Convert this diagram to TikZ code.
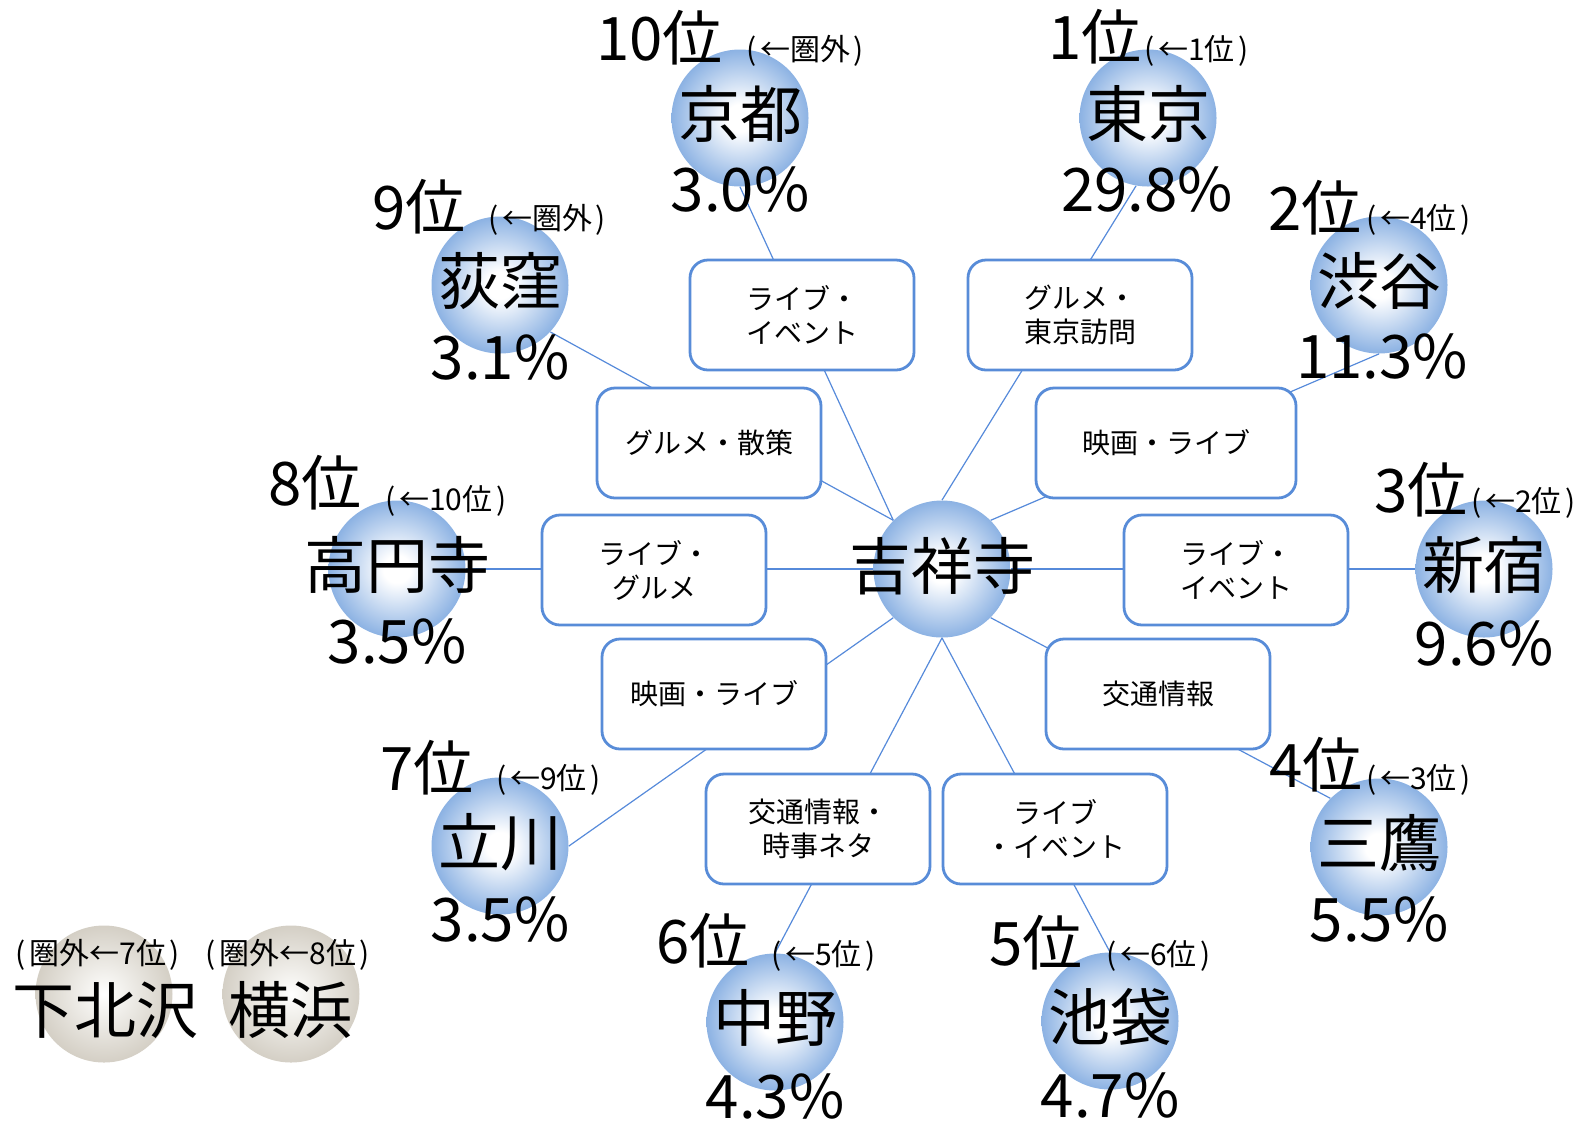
\documentclass[tikz,border=0pt]{standalone}
\usepackage{fontspec}
\setmainfont{Noto Sans CJK JP}
\usetikzlibrary{calc}
\definecolor{cityblue}{RGB}{140,178,227}
\definecolor{stonegray}{RGB}{212,207,197}
\definecolor{stonelight}{RGB}{246,245,242}
\definecolor{linkblue}{RGB}{86,138,218}
\definecolor{boxblue}{RGB}{88,140,216}
\pgfdeclareradialshading{bluebulb}{\pgfpoint{0bp}{0bp}}{color(0bp)=(white); color(5bp)=(white); color(25bp)=(cityblue); color(50bp)=(cityblue)}
\pgfdeclareradialshading{graybulb}{\pgfpoint{0bp}{0bp}}{color(0bp)=(white); color(5bp)=(stonelight); color(25bp)=(stonegray); color(50bp)=(stonegray)}
\newcommand{\paren}[1]{(\hspace{.12em}#1\hspace{.12em})}

\begin{document}
\begin{tikzpicture}[
  x=0.5pt, y=-0.5pt,
  bulb/.style = {circle, minimum size=68.5pt, inner sep=0pt, shade, shading=bluebulb},
  stone/.style = {circle, minimum size=68.5pt, inner sep=0pt, shade, shading=graybulb},
  cityname/.style = {inner sep=0pt, font=\fontsize{31}{31}\selectfont},
  pct/.style = {inner sep=0pt, font=\fontsize{30}{30}\selectfont},
  rank/.style = {inner sep=0pt, anchor=base east, font=\fontsize{30}{30}\selectfont},
  prev/.style = {inner sep=0pt, anchor=base west, font=\fontsize{15}{15}\selectfont},
  topic/.style = {draw=boxblue, line width=1.4pt, rounded corners=9pt, fill=white,
    minimum width=112pt, minimum height=55pt, align=center, font=\fontsize{14}{17}\selectfont},
  link/.style = {draw=linkblue, line width=0.6pt}
  ]
	\useasboundingbox (0,0) rectangle (1580,1121);

	\node[bulb] (kichijoji) at (942,569) {};
	\node[bulb] (kyoto) at (740,118) {};
	\node[bulb] (tokyo) at (1148,118) {};
	\node[bulb] (shibuya) at (1379,285) {};
	\node[bulb] (shinjuku) at (1484,569) {};
	\node[bulb] (mitaka) at (1379,847) {};
	\node[bulb] (ikebukuro) at (1110,1021) {};
	\node[bulb] (nakano) at (775,1022) {};
	\node[bulb] (tachikawa) at (500,846) {};
	\node[bulb] (koenji) at (397,569) {};
	\node[bulb] (ogikubo) at (500,285) {};
	\node[stone] (shimokita) at (104,994) {};
	\node[stone] (yokohama) at (291,994) {};

	\draw[link] (kichijoji.135) -- (kyoto.south);
	\draw[link] (kichijoji.90) -- (tokyo.-100);
	\draw[link] (kichijoji.45) -- (shibuya.south);
	\draw[link] (kichijoji.east) -- (shinjuku.west);
	\draw[link] (kichijoji.-45) -- (mitaka.135);
	\draw[link] (kichijoji.south) -- (ikebukuro.north);
	\draw[link] (kichijoji.south) -- (nakano.north);
	\draw[link] (kichijoji.-135) -- (tachikawa.east);
	\draw[link] (kichijoji.west) -- (koenji.east);
	\draw[link] (kichijoji.135) -- (ogikubo.-43);

	\node[topic] (t-kyoto) at (802,315) {ライブ・\\イベント};
	\node[topic] (t-tokyo) at (1080,315) {グルメ・\\東京訪問};
	\node[topic] (t-ogikubo) at (709,443) {グルメ・散策};
	\node[topic, minimum width=130pt] (t-shibuya) at (1166,443) {映画・ライブ};
	\node[topic] (t-koenji) at (654,570) {ライブ・\\グルメ};
	\node[topic] (t-shinjuku) at (1236,570) {ライブ・\\イベント};
	\node[topic] (t-tachikawa) at (714,694) {映画・ライブ};
	\node[topic] (t-mitaka) at (1158,694) {交通情報};
	\node[topic] (t-nakano) at (818,829) {交通情報・\\時事ネタ};
	\node[topic] (t-ikebukuro) at (1055,829) {ライブ\\・イベント};

	\node[cityname] (n-kichijoji) at (942,566) {吉祥寺};

	\node[cityname] (n-kyoto) at (740,114) {京都};
	\node[pct] (p-kyoto) at (740,190) {3.0\%};
	\node[rank] (r-kyoto) at (723,60) {10位};
	\node[prev] (v-kyoto) at (746,60) {\paren{←圏外}};

	\node[cityname] (n-tokyo) at (1148,114) {東京};
	\node[pct] (p-tokyo) at (1147,190) {29.8\%};
	\node[rank] (r-tokyo) at (1142,59) {1位};
	\node[prev] (v-tokyo) at (1144,60) {\paren{←1位}};

	\node[cityname] (n-shibuya) at (1379,281) {渋谷};
	\node[pct] (p-shibuya) at (1382,356) {11.3\%};
	\node[rank] (r-shibuya) at (1362,230) {2位};
	\node[prev] (v-shibuya) at (1366,229) {\paren{←4位}};

	\node[cityname] (n-shinjuku) at (1484,565) {新宿};
	\node[pct] (p-shinjuku) at (1484,643) {9.6\%};
	\node[rank] (r-shinjuku) at (1468,512) {3位};
	\node[prev] (v-shinjuku) at (1471,512) {\paren{←2位}};

	\node[cityname] (n-mitaka) at (1379,843) {三鷹};
	\node[pct] (p-mitaka) at (1379,919) {5.5\%};
	\node[rank] (r-mitaka) at (1363,787) {4位};
	\node[prev] (v-mitaka) at (1366,789) {\paren{←3位}};

	\node[cityname] (n-ikebukuro) at (1110,1017) {池袋};
	\node[pct] (p-ikebukuro) at (1110,1095) {4.7\%};
	\node[rank] (r-ikebukuro) at (1083,965) {5位};
	\node[prev] (v-ikebukuro) at (1106,965) {\paren{←6位}};

	\node[cityname] (n-nakano) at (775,1018) {中野};
	\node[pct] (p-nakano) at (775,1096) {4.3\%};
	\node[rank] (r-nakano) at (750,963) {6位};
	\node[prev] (v-nakano) at (771,965) {\paren{←5位}};

	\node[cityname] (n-tachikawa) at (500,842) {立川};
	\node[pct] (p-tachikawa) at (500,919) {3.5\%};
	\node[rank] (r-tachikawa) at (474,790) {7位};
	\node[prev] (v-tachikawa) at (496,789) {\paren{←9位}};

	\node[cityname] (n-koenji) at (397,565) {高円寺};
	\node[pct] (p-koenji) at (397,641) {3.5\%};
	\node[rank] (r-koenji) at (362,505) {8位};
	\node[prev] (v-koenji) at (385,510) {\paren{←10位}};

	\node[cityname] (n-ogikubo) at (500,281) {荻窪};
	\node[pct] (p-ogikubo) at (500,357) {3.1\%};
	\node[rank] (r-ogikubo) at (466,229) {9位};
	\node[prev] (v-ogikubo) at (488,229) {\paren{←圏外}};

	\node[cityname] (n-shimokita) at (105,1010) {下北沢};
	\node[prev, anchor=center] (v-shimokita) at (98,955) {\paren{圏外←7位}};
	\node[cityname] (n-yokohama) at (290,1010) {横浜};
	\node[prev, anchor=center] (v-yokohama) at (288,955) {\paren{圏外←8位}};

\end{tikzpicture}
\end{document}
